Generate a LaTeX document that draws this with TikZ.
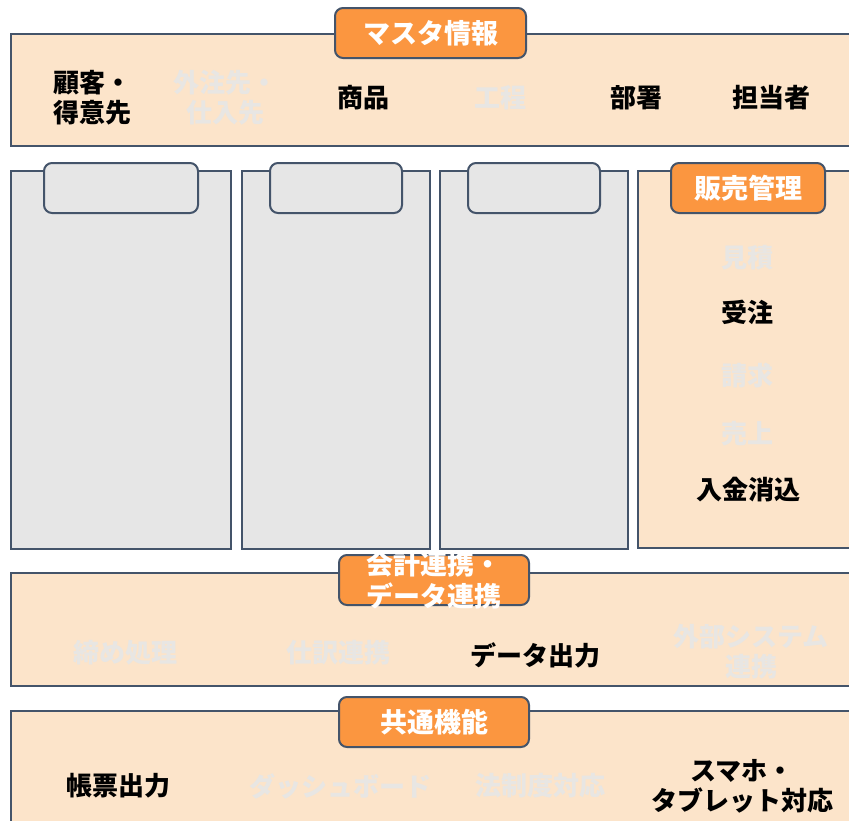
\documentclass[tikz,border=0pt]{standalone}
\usepackage{fontspec}
\setmainfont{Noto Sans CJK JP}
\definecolor{peach}{HTML}{FCE4CA}
\definecolor{edgec}{HTML}{44546A}
\definecolor{tabor}{HTML}{FB9640}
\definecolor{greyp}{HTML}{E6E6E6}
\definecolor{faintc}{HTML}{E8E6E3}
\begin{document}
\begin{tikzpicture}[x=1pt,y=-1pt,
  panel/.style={draw=edgec,line width=2pt,fill=peach},
  gpanel/.style={draw=edgec,line width=1.6pt,fill=greyp},
  tabbox/.style={draw=edgec,line width=2pt,fill=tabor,rounded corners=8pt,
    text=white,font=\bfseries\fontsize{27}{32}\selectfont,align=center,inner sep=0pt,
    minimum height=50pt},
  tabtext/.style={text=white,font=\bfseries\fontsize{27}{32}\selectfont,align=center,inner sep=0pt},
  gtab/.style={draw=edgec,line width=2pt,fill=greyp,rounded corners=8pt,
    minimum height=50pt,inner sep=0pt},
  item/.style={font=\bfseries\fontsize{26}{30}\selectfont,align=center,text=black,inner sep=0pt},
  faint/.style={item,text=faintc}]
\useasboundingbox (0,0) rectangle (849,820);
\fill[white] (0,0) rectangle (849,820);
\clip (0,0) rectangle (849,820);
% master panel
\draw[panel] (11,34) rectangle (870,146);
\node[tabbox,minimum width=191pt] (mtab) at (430.5,33) {マスタ情報};
\node[item] (m1) at (92,98) {顧客・\\得意先};
\node[faint] (m2) at (225,98) {外注先・\\仕入先};
\node[item] (m3) at (363,98) {商品};
\node[faint] (m4) at (500,98) {工程};
\node[item] (m5) at (636,98) {部署};
\node[item] (m6) at (771,98) {担当者};
% grey columns
\draw[gpanel] (11,171) rectangle (231,549);
\node[gtab,minimum width=154pt] (t1) at (121,188) {};
\draw[gpanel] (242,171) rectangle (430,549);
\node[gtab,minimum width=132pt] (t2) at (336,188) {};
\draw[gpanel] (440,171) rectangle (628,549);
\node[gtab,minimum width=132pt] (t3) at (534,188) {};
% sales column
\draw[panel] (638,171) rectangle (870,548);
\node[tabbox,minimum width=154pt] (stab) at (748,188) {販売管理};
\node[faint] (s1) at (747,258) {見積};
\node[item] (s2) at (747,312) {受注};
\node[faint] (s3) at (747,375) {請求};
\node[faint] (s4) at (747,434) {売上};
\node[item] (s5) at (748,490) {入金消込};
% accounting panel
\draw[panel] (11,573) rectangle (870,686);
\node[tabbox,minimum width=190pt,
  label={[tabtext]center:会計連携・\\データ連携}] (atab) at (434,580) {};
\node[faint] (a1) at (125,653) {締め処理};
\node[faint] (a2) at (338,653) {仕訳連携};
\node[item] (a3) at (535,655) {データ出力};
\node[faint] (a4) at (751,652) {外部システム\\連携};
% common panel
\draw[panel] (11,711) rectangle (870,840);
\node[tabbox,minimum width=190pt] (ctab) at (434,722) {共通機能};
\node[item] (c1) at (118,786) {帳票出力};
\node[faint] (c2) at (340,786) {ダッシュボード};
\node[faint] (c3) at (540,786) {法制度対応};
\node[item] (c4) at (742,786) {スマホ・\\タブレット対応};
\end{tikzpicture}
\end{document}
